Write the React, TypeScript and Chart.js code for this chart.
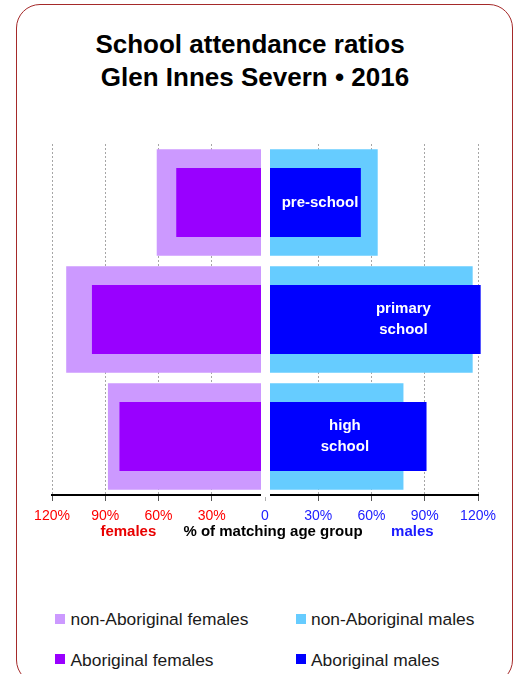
import React, { useEffect, useRef } from 'react';
import { Chart, registerables } from 'chart.js';

Chart.register(...registerables);

const categories = ['pre-school', 'primary school', 'high school'];
const categoryLabelLines = [['pre-school'], ['primary', 'school'], ['high', 'school']];
const nonAboriginalFemales = [61, 112, 88.5];
const aboriginalFemales = [50, 97.5, 82];
const nonAboriginalMales = [63.5, 117, 78];
const aboriginalMales = [54, 121.5, 91];
const tickValues = [-120, -90, -60, -30, 0, 30, 60, 90, 120];
const categoryLabelAnchors = [31, 78, 45];

const RED = '#ff0000';
const BLUE = '#2020ff';
const FONT = "'Liberation Sans', Arial, Helvetica, sans-serif";

const axisTitleParts = [
  { text: 'females', at: -77, color: '#e80000' },
  { text: '% of matching age group', at: 4.5, color: '#000000' },
  { text: 'males', at: 83, color: '#1a1aff' },
];

const legendItems = [
  { label: 'non-Aboriginal females', color: '#cc99ff', col: 0, row: 0 },
  { label: 'non-Aboriginal males', color: '#66ccff', col: 1, row: 0 },
  { label: 'Aboriginal females', color: '#9900ff', col: 0, row: 1 },
  { label: 'Aboriginal males', color: '#0000ff', col: 1, row: 1 },
];

export default function App() {
  const ref = useRef<HTMLCanvasElement>(null);

  useEffect(() => {
    const canvas = ref.current;
    if (!canvas) return;

    const centerPlugin = {
      id: 'centerGap',
      afterDatasetsDraw(chart: any) {
        const { ctx, chartArea, scales } = chart;
        const x0 = scales.x.getPixelForValue(0);
        ctx.save();
        ctx.fillStyle = '#ffffff';
        ctx.fillRect(x0 - 4, chartArea.top - 1, 9, chartArea.bottom - chartArea.top + 3);
        ctx.restore();
      },
      afterDraw(chart: any) {
        const { ctx, chartArea, scales } = chart;
        ctx.save();
        ctx.font = `bold 15px ${FONT}`;
        ctx.fillStyle = '#ffffff';
        ctx.textAlign = 'center';
        ctx.textBaseline = 'middle';
        categoryLabelLines.forEach((lines, i) => {
          const x = scales.x.getPixelForValue(categoryLabelAnchors[i]);
          const yc = scales.y.getPixelForValue(i);
          const lh = 21;
          lines.forEach((ln, j) => {
            ctx.fillText(ln, x, yc + (j - (lines.length - 1) / 2) * lh);
          });
        });
        ctx.font = `bold 15px ${FONT}`;
        axisTitleParts.forEach((p) => {
          ctx.fillStyle = p.color;
          ctx.fillText(p.text, scales.x.getPixelForValue(p.at), chartArea.bottom + 37);
        });
        ctx.restore();
      },
    };

    const chart = new Chart(canvas, {
      type: 'bar',
      data: {
        labels: categories,
        datasets: [
          {
            label: 'non-Aboriginal females',
            data: nonAboriginalFemales.map((v) => -v),
            backgroundColor: '#cc99ff',
            barPercentage: 0.91,
            categoryPercentage: 1,
            grouped: false,
            order: 2,
            clip: false as any,
          },
          {
            label: 'non-Aboriginal males',
            data: nonAboriginalMales,
            backgroundColor: '#66ccff',
            barPercentage: 0.91,
            categoryPercentage: 1,
            grouped: false,
            order: 2,
            clip: false as any,
          },
          {
            label: 'Aboriginal females',
            data: aboriginalFemales.map((v) => -v),
            backgroundColor: '#9900ff',
            barPercentage: 0.59,
            categoryPercentage: 1,
            grouped: false,
            order: 1,
            clip: false as any,
          },
          {
            label: 'Aboriginal males',
            data: aboriginalMales,
            backgroundColor: '#0000ff',
            barPercentage: 0.59,
            categoryPercentage: 1,
            grouped: false,
            order: 1,
            clip: false as any,
          },
        ],
      },
      options: {
        indexAxis: 'y',
        responsive: false,
        animation: false,
        devicePixelRatio: 1,
        layout: { padding: { left: 52, right: 39, top: 144, bottom: 0 } },
        plugins: {
          legend: { display: false },
          tooltip: { enabled: false },
          title: { display: false },
        },
        scales: {
          x: {
            type: 'linear',
            min: -120,
            max: 120,
            afterBuildTicks: (s: any) => {
              s.ticks = tickValues.map((v) => ({ value: v }));
            },
            afterFit: (s: any) => {
              s.height = 65;
            },
            ticks: {
              autoSkip: false,
              maxRotation: 0,
              padding: 7,
              font: { size: 14, family: FONT },
              color: (c: any) => (c.tick && c.tick.value < 0 ? RED : BLUE),
              callback: (v: any) => (Number(v) === 0 ? '0' : Math.abs(Number(v)) + '%'),
            },
            grid: {
              color: (c: any) => (c.tick && c.tick.value === 0 ? 'rgba(0,0,0,0)' : '#a6a6a6'),
              lineWidth: 1,
              tickLength: 6,
              tickColor: (c: any) => (c.tick && c.tick.value === 0 ? '#b0b0b0' : '#555555'),
              tickBorderDash: [],
            },
            border: { display: true, color: '#000000', width: 2, dash: [2, 2] },
          },
          y: { type: 'category', display: false },
        },
      },
      plugins: [centerPlugin],
    } as any);

    return () => chart.destroy();
  }, []);

  return (
    <div style={{ position: 'fixed', left: 0, top: 0, width: 517, height: 674, background: '#fff', overflow: 'hidden', fontFamily: FONT }}>
      <div
        style={{
          position: 'absolute',
          left: 16,
          top: 4,
          width: 497,
          height: 680,
          boxSizing: 'border-box',
          border: '1.5px solid #a52a2a',
          borderRadius: 24,
          pointerEvents: 'none',
        }}
      />
      <div
        style={{
          position: 'absolute',
          left: 0,
          top: 28,
          width: 500,
          textAlign: 'center',
          fontWeight: 'bold',
          fontSize: 26,
          lineHeight: '33px',
          color: '#000',
        }}
      >
        <div>School attendance ratios</div>
        <div style={{ paddingLeft: 10 }}>Glen Innes Severn • 2016</div>
      </div>
      <canvas ref={ref} width={517} height={560} style={{ position: 'absolute', left: 0, top: 0, width: 517, height: 560 }} />
      {legendItems.map((it) => {
        const left = it.col === 0 ? 55 : 295.5;
        const rowTop = it.row === 0 ? 613.5 : 654;
        return (
          <div key={it.label}>
            <div
              style={{
                position: 'absolute',
                left,
                top: rowTop,
                width: 10,
                height: 10,
                background: it.color,
              }}
            />
            <div
              style={{
                position: 'absolute',
                left: left + 15.5,
                top: rowTop - 4.5,
                fontSize: 17.4,
                lineHeight: '20px',
                color: '#1a1a1a',
                whiteSpace: 'nowrap',
              }}
            >
              {it.label}
            </div>
          </div>
        );
      })}
    </div>
  );
}
